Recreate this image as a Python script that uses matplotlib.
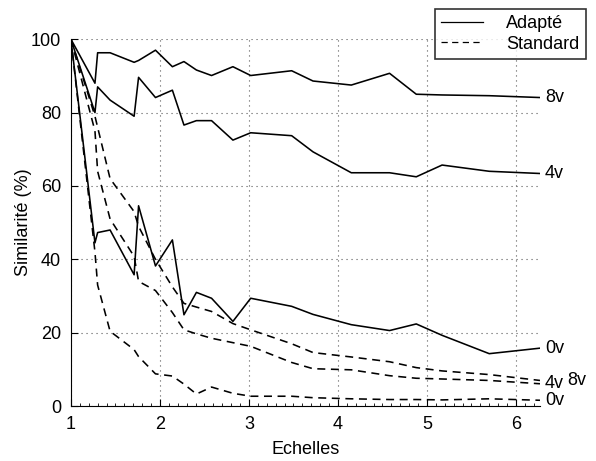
import matplotlib
matplotlib.use("Agg")
import matplotlib.pyplot as plt
from matplotlib.ticker import MultipleLocator

plt.rcParams['font.family'] = ['Liberation Sans', 'DejaVu Sans']

# echelles (common x grid)
echelles = [1.0, 1.27, 1.30, 1.44, 1.71, 1.76, 1.95, 2.14, 2.27, 2.41, 2.58,
            2.82, 3.02, 3.48, 3.72, 4.15, 4.58, 4.88, 5.17, 5.70, 6.27]

# adapte series
adapte_8v = [100, 88, 96.3, 96.3, 93.7, 94.2, 97, 92.5, 93.9, 91.6, 90.1,
             92.5, 90.1, 91.4, 88.6, 87.5, 90.7, 85, 84.8, 84.6, 84.1]
adapte_4v = [100, 80, 87, 83.4, 79, 89.6, 84.1, 86.1, 76.6, 77.8, 77.8,
             72.5, 74.5, 73.7, 69.3, 63.6, 63.6, 62.5, 65.7, 64.0, 63.4]
adapte_0v = [100, 44.5, 47.3, 48, 35.8, 54.6, 38.2, 45.3, 24.9, 31, 29.4,
             23.1, 29.4, 27.2, 25, 22.2, 20.6, 22.4, 19.3, 14.3, 15.8]

# standard series
standard_8v = [100, 79, 76, 62, 53, 49, 40, 32.5, 28, 27, 25.8,
               22.5, 20.8, 17, 14.6, 13.4, 12.1, 10.5, 9.6, 8.6, 7.0]
standard_4v = [100, 75, 64, 51, 40.8, 34, 31.5, 25.5, 20.8, 19.7, 18.5,
               17.3, 16.3, 11.9, 10.2, 9.9, 8.3, 7.6, 7.4, 7.0, 6.1]
standard_0v = [100, 42, 33, 20.4, 15.4, 13.5, 8.8, 8.2, 6, 3.3, 5.2,
               3.5, 2.7, 2.7, 2.3, 2.0, 1.8, 1.8, 1.7, 2.0, 1.6]

fig = plt.figure(figsize=(5.96, 4.61), dpi=100)
ax = fig.add_axes([0.119, 0.119, 0.787, 0.796])

lw = 1.15
dash = (0, (5, 3.5))
ax.plot(echelles, adapte_8v, color='k', lw=lw, label='Adapté')
ax.plot(echelles, standard_8v, color='k', lw=lw, ls=dash, label='Standard')
ax.plot(echelles, adapte_4v, color='k', lw=lw)
ax.plot(echelles, adapte_0v, color='k', lw=lw)
ax.plot(echelles, standard_4v, color='k', lw=lw, ls=dash)
ax.plot(echelles, standard_0v, color='k', lw=lw, ls=dash)

# labels at line ends
xe = echelles[-1]
for y, txt, dx in [(adapte_8v[-1], '8v', 5), (adapte_4v[-1], '4v', 5),
                   (adapte_0v[-1], '0v', 5), (standard_4v[-1], '4v', 5),
                   (standard_8v[-1], '8v', 27), (standard_0v[-1], '0v', 5)]:
    ax.annotate(txt, (xe, y), xytext=(dx, 0), textcoords='offset pixels',
                ha='left', va='center', fontsize=13, annotation_clip=False)

ax.set_xlim(1, 6.27)
ax.set_ylim(0, 100)
ax.set_xticks([1, 2, 3, 4, 5, 6])
ax.set_yticks([0, 20, 40, 60, 80, 100])
ax.xaxis.set_minor_locator(MultipleLocator(0.1))
ax.tick_params(direction='in', length=5, width=0.8, labelsize=13)
ax.tick_params(axis='x', pad=7)
ax.tick_params(axis='y', pad=7)
ax.tick_params(which='minor', direction='in', length=2, width=0.6)
ax.spines['top'].set_visible(False)
ax.spines['right'].set_visible(False)
ax.grid(True, ls=(0, (1, 3.5)), color='0.35', lw=0.8)

ax.set_xlabel('Echelles', fontsize=13, labelpad=6)
ax.set_ylabel('Similarité (%)', fontsize=13, labelpad=-1)

leg = fig.legend(loc='lower left', bbox_to_anchor=(0.73, 0.872),
                 fontsize=13, frameon=True, fancybox=False,
                 edgecolor='k', handlelength=2.3, borderaxespad=0,
                 borderpad=0.35, labelspacing=0.2, handletextpad=1.3)
leg.get_frame().set_linewidth(1.2)
for line in leg.get_lines():
    line.set_linewidth(0.9)

fig.savefig('out.png', dpi=100)
